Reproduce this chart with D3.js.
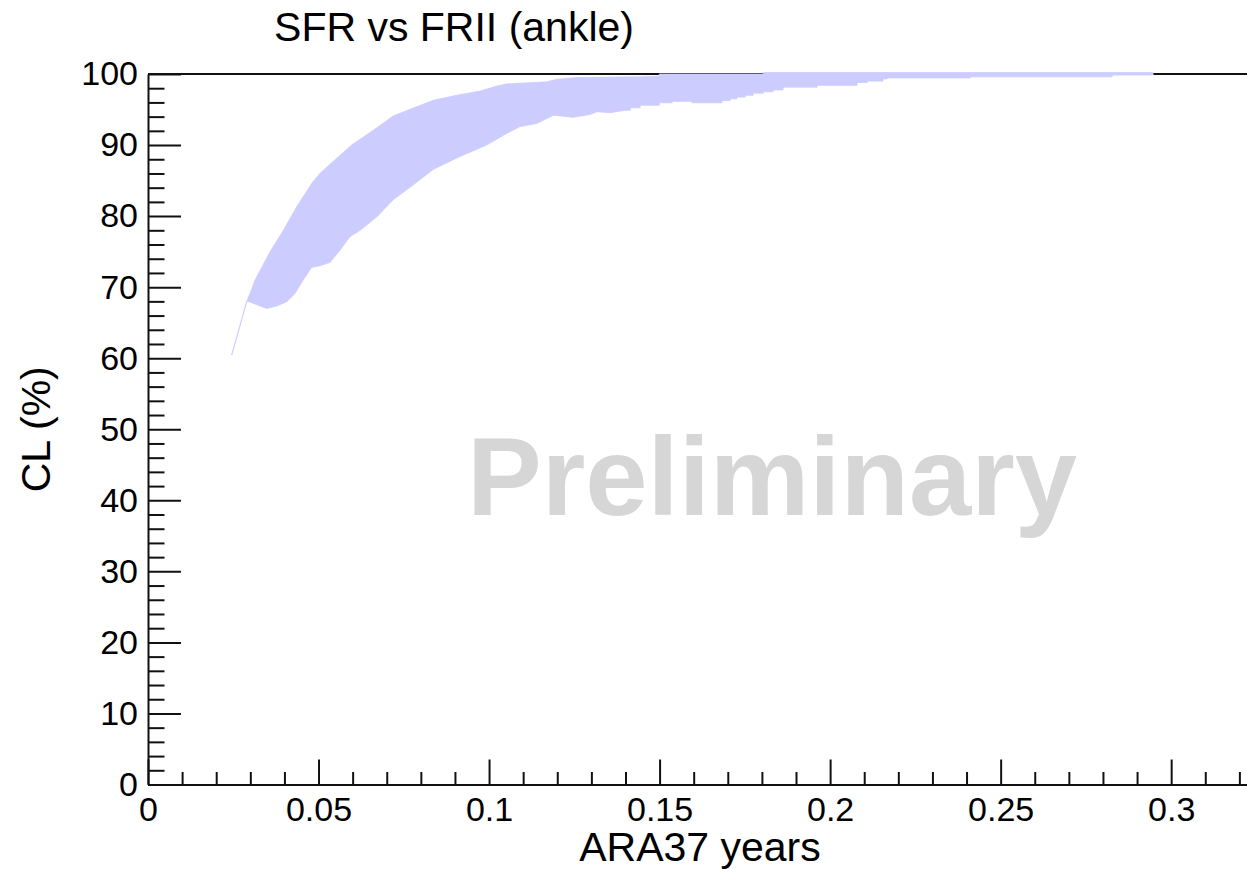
<!DOCTYPE html>
<html>
<head>
<meta charset="utf-8">
<script src="https://cdn.jsdelivr.net/npm/d3@7/dist/d3.min.js"></script>
<style>
  html, body { margin: 0; padding: 0; background: #ffffff; }
  svg { display: block; }
  text { font-family: "Liberation Sans", Arial, Helvetica, sans-serif; fill: #000; }
</style>
</head>
<body>
<svg id="chart" width="1247" height="869"></svg>
<script>
// CL band: upper edge (years, %)
const upperYears = [0.02455, 0.0290, 0.0299, 0.0314, 0.0358, 0.0397, 0.0436, 0.0480, 0.0504, 0.0543,
  0.0597, 0.0661, 0.0719, 0.0778, 0.0837, 0.0905, 0.0974, 0.1023, 0.1052, 0.1169,
  0.1199, 0.1257, 0.1443, 0.1499, 0.1499, 0.1804, 0.1804, 0.2947];
const upperCL = [60.45, 68.05, 69.1, 71.0, 75.0, 78.0, 81.3, 84.6, 86.0, 87.7,
  90.0, 92.1, 94.1, 95.2, 96.3, 97.0, 97.6, 98.3, 98.6, 98.9,
  99.25, 99.5, 99.6, 99.7, 100, 100, 100.2, 100.2];

// CL band: lower edge (years, %)
const lowerYears = [0.02455, 0.0290, 0.0299, 0.0348, 0.0377, 0.0407, 0.0431, 0.0455, 0.0480, 0.0504,
  0.0534, 0.0563, 0.0592, 0.0622, 0.0671, 0.0719, 0.0778, 0.0837, 0.0915, 0.0993,
  0.1052, 0.1091, 0.1140, 0.1189, 0.1247, 0.1296, 0.1317, 0.1355, 0.1399,
  0.1414, 0.1414, 0.1443, 0.1443, 0.1499, 0.1499, 0.1537, 0.1537, 0.1595, 0.1595,
  0.1683, 0.1683, 0.1707, 0.1707, 0.1727, 0.1727, 0.1751, 0.1751, 0.1774, 0.1774,
  0.1804, 0.1804, 0.1833, 0.1833, 0.1862, 0.1862, 0.1962, 0.1962, 0.2079, 0.2079,
  0.2109, 0.2109, 0.2155, 0.2155, 0.2167, 0.2167, 0.2411, 0.2411, 0.2827, 0.2827, 0.2947];
const lowerCL = [60.45, 68.05, 67.9, 67.0, 67.35, 67.95, 69.1, 71.0, 72.8, 73.0,
  73.5, 75.2, 77.1, 78.0, 79.9, 82.3, 84.4, 86.6, 88.4, 90.0,
  91.65, 92.6, 93.05, 94.2, 93.9, 94.3, 94.7, 94.55, 94.9,
  94.9, 95.25, 95.25, 95.6, 95.6, 95.95, 95.95, 96.15, 96.15, 95.95,
  95.95, 96.25, 96.25, 96.5, 96.5, 96.75, 96.75, 97.0, 97.0, 97.3,
  97.3, 97.5, 97.5, 97.75, 97.75, 98.15, 98.15, 98.4, 98.4, 98.8,
  98.8, 99.0, 99.0, 99.3, 99.3, 99.45, 99.45, 99.6, 99.6, 99.85, 99.85];

// Axis ticks and labels
const xMajorTicks = [0, 0.05, 0.1, 0.15, 0.2, 0.25, 0.3];
const xMajorLabels = ["0", "0.05", "0.1", "0.15", "0.2", "0.25", "0.3"];
const xMinorTicks = [0.01, 0.02, 0.03, 0.04, 0.06, 0.07, 0.08, 0.09, 0.11, 0.12, 0.13, 0.14,
  0.16, 0.17, 0.18, 0.19, 0.21, 0.22, 0.23, 0.24, 0.26, 0.27, 0.28, 0.29, 0.31, 0.32];
const yMajorTicks = [0, 10, 20, 30, 40, 50, 60, 70, 80, 90, 100];
const yMajorLabels = ["0", "10", "20", "30", "40", "50", "60", "70", "80", "90", "100"];
const yMinorTicks = [2, 4, 6, 8, 12, 14, 16, 18, 22, 24, 26, 28, 32, 34, 36, 38, 42, 44, 46, 48,
  52, 54, 56, 58, 62, 64, 66, 68, 72, 74, 76, 78, 82, 84, 86, 88, 92, 94, 96, 98];

const titleText = "SFR vs FRII (ankle)";
const xTitle = "ARA37 years";
const yTitle = "CL (%)";
const watermark = "Preliminary";

const svg = d3.select("#chart");
const plotLeft = 148, plotRight = 1252, plotTop = 74, plotBottom = 784.5;

const x = d3.scaleLinear().domain([0, 0.3237]).range([plotLeft, plotRight]);
const y = d3.scaleLinear().domain([0, 100]).range([plotBottom, plotTop]);

const axisColor = "#111";

// Frame top line
svg.append("line")
  .attr("x1", plotLeft).attr("x2", plotRight)
  .attr("y1", y(100)).attr("y2", y(100))
  .attr("stroke", axisColor).attr("stroke-width", 2);

// Watermark
svg.append("text")
  .attr("x", 772).attr("y", 515)
  .attr("text-anchor", "middle")
  .style("font-size", "112px").style("font-weight", "bold")
  .style("fill", "#d6d6d6")
  .text(watermark);

// CL band polygon
const bandPts = upperYears.map((v, i) => [v, upperCL[i]])
  .concat(lowerYears.map((v, i) => [v, lowerCL[i]]).reverse());
const bandLine = d3.line().x(d => x(d[0])).y(d => y(d[1])).curve(d3.curveLinearClosed);
svg.append("path")
  .attr("d", bandLine(bandPts))
  .attr("fill", "#ccccff")
  .attr("stroke", "#ccccff")
  .attr("stroke-width", 0.8)
  .attr("stroke-linejoin", "round");

// Axis styling
function styleAxis(g) {
  g.selectAll("line").attr("stroke", axisColor).attr("stroke-width", 2);
  g.selectAll("path.domain").attr("stroke", axisColor).attr("stroke-width", 2);
  g.selectAll("text").style("font-size", "34px").style("font-family", "'Liberation Sans', Arial, sans-serif").attr("fill", "#000");
}

// Y axis: major + minor ticks pointing inward
const yMinor = svg.append("g").attr("transform", `translate(${plotLeft},0)`)
  .call(d3.axisLeft(y).tickValues(yMinorTicks).tickSize(-16.5).tickFormat(""));
yMinor.select("path.domain").remove();
styleAxis(yMinor);

const yMajor = svg.append("g").attr("transform", `translate(${plotLeft},0)`)
  .call(d3.axisLeft(y).tickValues(yMajorTicks).tickSizeInner(-33).tickSizeOuter(0)
    .tickPadding(10).tickFormat((d, i) => yMajorLabels[i]));
styleAxis(yMajor);

// X axis: major + minor ticks pointing inward
const xMinor = svg.append("g").attr("transform", `translate(0,${plotBottom})`)
  .call(d3.axisBottom(x).tickValues(xMinorTicks).tickSize(-12.5).tickFormat(""));
xMinor.select("path.domain").remove();
styleAxis(xMinor);

const xMajor = svg.append("g").attr("transform", `translate(0,${plotBottom})`)
  .call(d3.axisBottom(x).tickValues(xMajorTicks).tickSizeInner(-25).tickSizeOuter(0)
    .tickPadding(12).tickFormat((d, i) => xMajorLabels[i]));
styleAxis(xMajor);

// Titles
svg.append("text")
  .attr("x", 454).attr("y", 41)
  .attr("text-anchor", "middle")
  .style("font-size", "41px")
  .text(titleText);

svg.append("text")
  .attr("x", (plotLeft + plotRight) / 2).attr("y", 861)
  .attr("text-anchor", "middle")
  .style("font-size", "41px")
  .text(xTitle);

svg.append("text")
  .attr("transform", `translate(50,${(plotTop + plotBottom) / 2}) rotate(-90)`)
  .attr("text-anchor", "middle")
  .style("font-size", "41px")
  .text(yTitle);
</script>
</body>
</html>
